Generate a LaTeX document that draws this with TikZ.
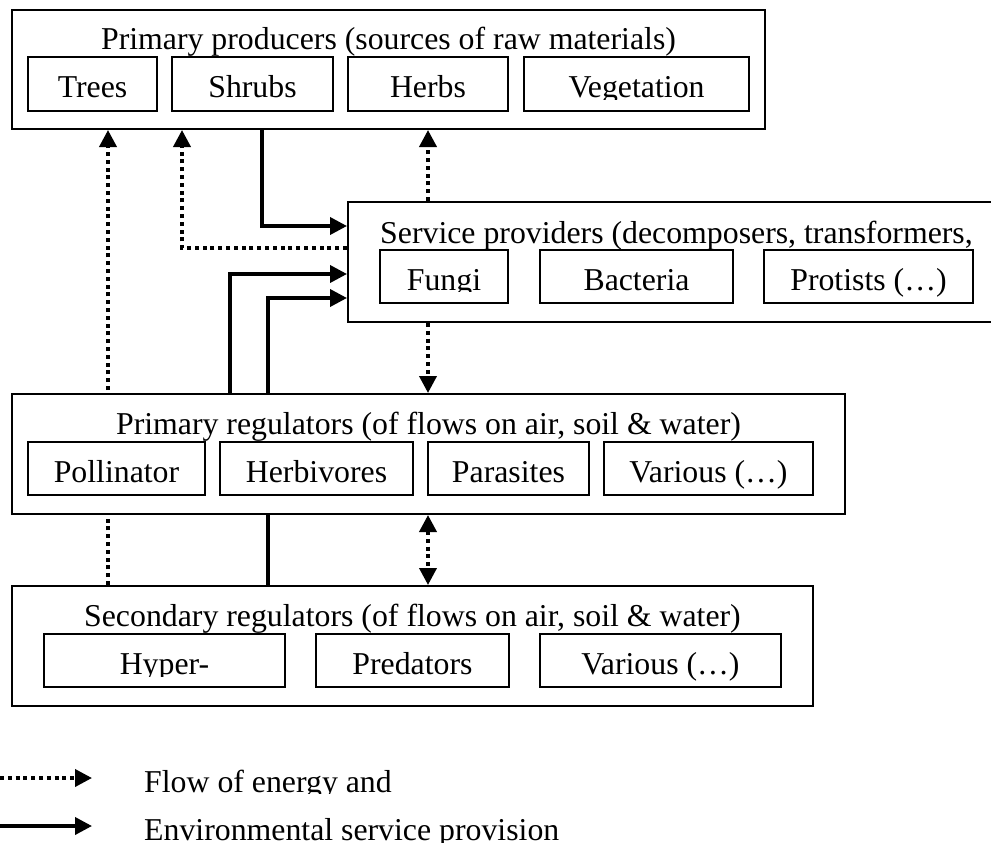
\documentclass[tikz,border=0pt]{standalone}
\usepackage{fontspec}
\setmainfont{Liberation Serif}
\usetikzlibrary{arrows.meta}
\pgfdeclarelayer{back}
\pgfsetlayers{back,main}

\tikzset{
  outerbox/.style={draw, line width=2pt, fill=white, inner sep=0pt, rectangle},
  cellbox/.style={draw, line width=2pt, inner sep=0pt, minimum height=53pt,
                  text height=40pt, text depth=13pt},
  ttl/.style={anchor=base, inner sep=0pt},
  flowarrow/.style={line width=3.7pt, dash pattern=on 4pt off 3.8pt,
                    -{Triangle[length=17pt,width=17pt]}},
  flowboth/.style={line width=3.7pt, dash pattern=on 4pt off 3.8pt,
                   {Triangle[length=17pt,width=17pt]}-{Triangle[length=17pt,width=17pt]}},
  servarrow/.style={line width=3.7pt, -{Triangle[length=17pt,width=17pt]}},
}

\begin{document}
\begin{tikzpicture}[x=1pt, y=-1pt, font=\fontsize{31.8}{38}\selectfont]
\path[use as bounding box] (0,0) rectangle (991,843);
\clip (0,0) rectangle (991,843);

% ---------- Primary producers ----------
\node[outerbox, minimum width=753pt, minimum height=119pt] (prod) at (388.5,69.5) {};
\node[ttl] (prodT) at (388.5,50) {Primary producers (sources of raw materials)};
\node[cellbox, minimum width=129pt, minimum height=54pt, text height=41pt] (trees) at (92.5,84) {Trees};
\node[cellbox, minimum width=161pt, minimum height=54pt, text height=41pt] (shrubs) at (252.5,84) {Shrubs};
\node[cellbox, minimum width=160pt, minimum height=54pt, text height=41pt] (herbs) at (428,84) {Herbs};
\node[cellbox, minimum width=225pt, minimum height=54pt, text height=41pt] (veg) at (636.5,84) {};
\begin{scope}
  \clip (524,57) rectangle (749,99.5);
  \node[ttl] (vegT) at (636.5,98) {Vegetation};
\end{scope}

% ---------- Service providers ----------
\node[outerbox, minimum width=652pt, minimum height=120pt] (serv) at (674,262) {};
\node[ttl] (servT) at (676.5,243) {Service providers (decomposers, transformers,};
\node[cellbox, minimum width=128pt] (fungi) at (444,276.5) {};
\begin{scope}
  \clip (380,250) rectangle (508,291.5);
  \node[ttl] (fungiT) at (444,290.5) {Fungi};
\end{scope}
\node[cellbox, minimum width=193pt] (bact) at (636.5,276.5) {Bacteria};
\node[cellbox, minimum width=209pt] (prot) at (868.5,276.5) {Protists (…)};

% ---------- Primary regulators ----------
\node[outerbox, minimum width=833pt, minimum height=120pt] (preg) at (428.5,454) {};
\node[ttl] (pregT) at (428.5,434) {Primary regulators (of flows on air, soil \& water)};
\node[cellbox, minimum width=177pt] (poll) at (116.5,468.5) {Pollinator};
\node[cellbox, minimum width=193pt] (herbv) at (316.5,468.5) {Herbivores};
\node[cellbox, minimum width=161pt] (paras) at (508.5,468.5) {Parasites};
\node[cellbox, minimum width=209pt] (varA) at (708.5,468.5) {Various (…)};

% ---------- Secondary regulators ----------
\node[outerbox, minimum width=801pt, minimum height=120pt] (sreg) at (412.5,646) {};
\node[ttl] (sregT) at (412.5,626) {Secondary regulators (of flows on air, soil \& water)};
\node[cellbox, minimum width=241pt] (hyper) at (164.5,660.5) {};
\begin{scope}
  \clip (44,634) rectangle (285,676);
  \node[ttl] (hyperT) at (164.5,674.5) {Hyper-};
\end{scope}
\node[cellbox, minimum width=193pt] (pred) at (412.5,660.5) {Predators};
\node[cellbox, minimum width=241pt] (varB) at (660.5,660.5) {Various (…)};

% ---------- Legend ----------
\coordinate (lgA1) at (0,778);
\coordinate (lgA2) at (92,778);
\coordinate (lgB1) at (0,826);
\coordinate (lgB2) at (92,826);
\draw[flowarrow] (lgA1) -- (lgA2);
\draw[servarrow] (lgB1) -- (lgB2);
\begin{scope}
  \clip (140,760) rectangle (600,793.5);
  \node[ttl, anchor=base west] (lgAT) at (144,792) {Flow of energy and};
\end{scope}
\node[ttl, anchor=base west] (lgBT) at (144,840) {Environmental service provision};

% ---------- Connectors (behind the boxes) ----------
\begin{pgfonlayer}{back}
  \coordinate (xA) at (108,0);
  \coordinate (xB) at (182,0);
  \coordinate (xC) at (262,0);
  \coordinate (xD) at (428,0);
  \coordinate (xE) at (230,0);
  \coordinate (xF) at (268,0);
  \coordinate (yB) at (0,248);
  \coordinate (yC) at (0,226);
  \coordinate (yE) at (0,274);
  \coordinate (yF) at (0,298);

  % energy flows
  \draw[flowarrow] (sreg.north -| xA) -- (prod.south -| xA);
  \draw[flowarrow] (serv.west |- yB) -| (prod.south -| xB);
  \draw[flowarrow] (serv.north -| xD) -- (prod.south -| xD);
  \draw[flowarrow] (serv.south -| xD) -- (preg.north -| xD);
  \draw[flowboth] (preg.south -| xD) -- (sreg.north -| xD);

  % service provision
  \draw[servarrow] (prod.south -| xC) |- (serv.west |- yC);
  \draw[servarrow] (preg.north -| xE) |- (serv.west |- yE);
  \draw[servarrow] (sreg.north -| xF) |- (serv.west |- yF);
\end{pgfonlayer}
\end{tikzpicture}
\end{document}
